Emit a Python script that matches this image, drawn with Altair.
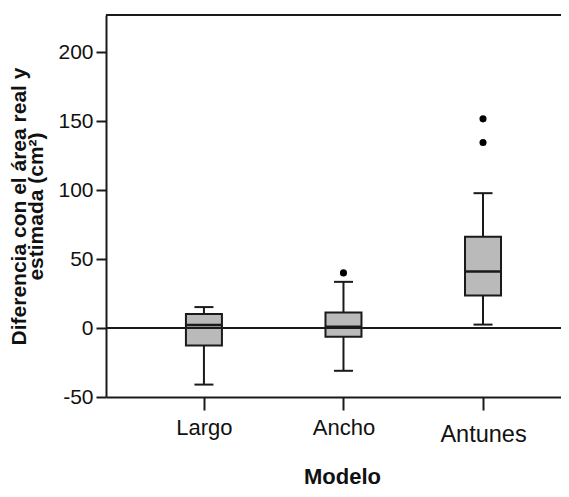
import json
import altair as alt
import pandas as pd

# ---- data ----
models = ["Largo", "Ancho", "Antunes"]
positions = [0, 1, 2]
whisker_low = [-41.0, -31.0, 2.5]
q1 = [-12.6, -6.3, 23.6]
median = [2.2, 1.0, 41.0]
q3 = [10.1, 11.3, 66.2]
whisker_high = [15.2, 33.5, 97.8]
outlier_model = ["Ancho", "Antunes", "Antunes"]
outlier_value = [40.0, 134.5, 151.7]
y_ticks = [-50, 0, 50, 100, 150, 200]

box_df = pd.DataFrame({
    "model": models, "pos": positions, "lo": whisker_low, "q1": q1,
    "med": median, "q3": q3, "hi": whisker_high,
})
out_df = pd.DataFrame({
    "pos": [models.index(m) for m in outlier_model],
    "value": outlier_value,
})

INK = "#1a1a1a"
FONT = "Liberation Sans"

x_axis = alt.Axis(
    values=positions,
    labelExpr=f"{json.dumps(models)}[datum.value]",
    tickSize=13, tickWidth=2, tickColor=INK,
    domainColor=INK, domainWidth=2,
    labelFont=FONT, labelColor="#111",
    labelFontSize={"condition": {"test": "datum.value == 2", "value": 23.5}, "value": 22},
    labelPadding={"condition": {"test": "datum.value == 2", "value": 12}, "value": 7},
    labelBaseline="top",
    grid=False,
    title="Modelo", titleFont=FONT, titleFontSize=22, titleFontWeight="bold",
    titleColor="#111", titleX=236, titleY=86, titleAlign="center",
    titleBaseline="alphabetic",
)
y_axis = alt.Axis(
    values=y_ticks,
    labelExpr="'' + datum.value",
    tickSize=10, tickWidth=2, tickColor=INK,
    domainColor=INK, domainWidth=2,
    labelFont=FONT, labelFontSize=21, labelColor="#111", labelPadding=3,
    grid=False,
    title=["Diferencia con el área real y", "estimada (cm²)"],
    titleFont=FONT, titleFontSize=21, titleFontWeight="bold", titleColor="#111",
    titleAngle=270, titleX=-81, titleY=191, titleAlign="center",
    titleBaseline="alphabetic", titleLineHeight=17,
)

x_scale = alt.Scale(domain=[-0.666, 2.523], nice=False, zero=False)
y_scale = alt.Scale(domain=[-50, 227], nice=False, zero=False)

def X():
    return alt.X("pos:Q", scale=x_scale, axis=x_axis)

def Y(field):
    return alt.Y(f"{field}:Q", scale=y_scale, axis=y_axis)

base = alt.Chart(box_df)

whisker = base.mark_rule(color=INK, strokeWidth=2).encode(
    x=X(), y=Y("lo"), y2="hi:Q")
box = base.mark_bar(size=36, fill="#bababa", stroke=INK, strokeWidth=2).encode(
    x=X(), y=Y("q1"), y2="q3:Q")
med = base.mark_tick(orient="horizontal", size=36, thickness=2.5, color=INK, opacity=1).encode(
    x=X(), y=Y("med"))
cap_lo = base.mark_tick(orient="horizontal", size=19, thickness=2, color=INK, opacity=1).encode(
    x=X(), y=Y("lo"))
cap_hi = base.mark_tick(orient="horizontal", size=19, thickness=2, color=INK, opacity=1).encode(
    x=X(), y=Y("hi"))
zero = alt.Chart(box_df).mark_rule(color=INK, strokeWidth=2).encode(
    y=alt.datum(0, scale=y_scale, axis=y_axis))
top = alt.Chart(box_df).mark_rule(color=INK, strokeWidth=2).encode(
    y=alt.datum(227, scale=y_scale, axis=y_axis))
outl = alt.Chart(out_df).mark_point(filled=True, size=50, color="#000", opacity=1).encode(
    x=X(), y=alt.Y("value:Q", scale=y_scale, axis=y_axis))

chart = alt.layer(whisker, box, med, cap_lo, cap_hi, zero, top, outl).properties(
    width=455, height=382,
    autosize=alt.AutoSizeParams(type="none"),
    padding={"left": 98, "top": 7, "right": 0, "bottom": 91},
    background="white",
).configure_view(stroke=None)

chart.save("out.html", embed_options={"renderer": "svg", "actions": False})
